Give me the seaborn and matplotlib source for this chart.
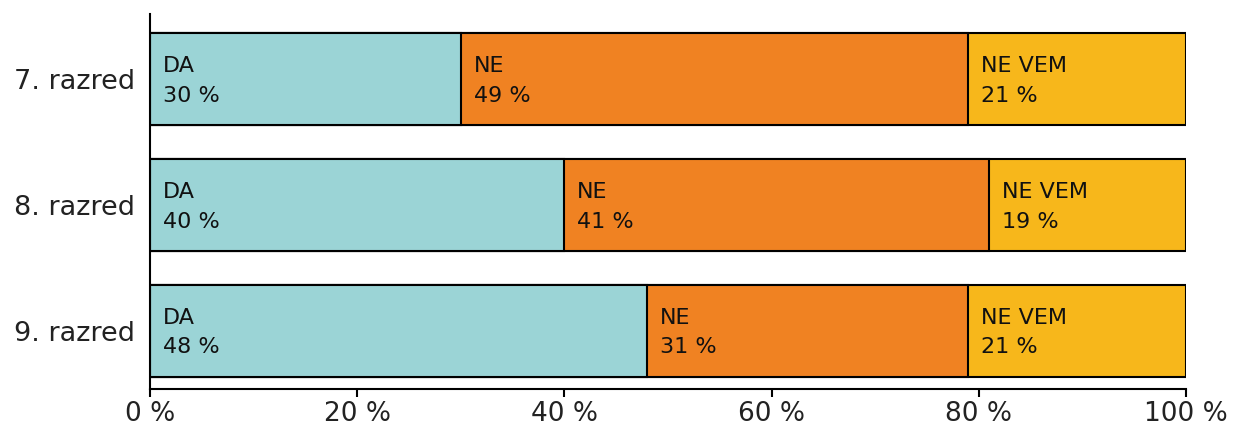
import numpy as np
import pandas as pd
import matplotlib.pyplot as plt
import seaborn as sns

grades = ["7. razred", "8. razred", "9. razred"]
answers = ["DA", "NE", "NE VEM"]
da = [30, 40, 48]
ne = [49, 41, 31]
ne_vem = [21, 19, 21]
colors = ["#9bd4d6", "#f08222", "#f7b71b"]

sns.set_theme(style="white")
plt.rcParams["font.family"] = ["DejaVu Sans"]

df = pd.DataFrame({"grade": grades, "DA": da, "NE": ne, "NE VEM": ne_vem})
cum = df[answers].cumsum(axis=1)

fig = plt.figure(figsize=(12.48, 4.24), dpi=100)
ax = fig.add_axes([0.1202, 0.0825, 0.8301, 0.8845])

# stacked bars: draw the longest cumulative bar first
for col, c in zip(answers[::-1], colors[::-1]):
    sns.barplot(x=cum[col], y=df["grade"], color=c, width=0.73, saturation=1,
                edgecolor="black", linewidth=1.5, orient="h", ax=ax)

# labels inside each segment
for i, row in df.iterrows():
    start = 0
    for col in answers:
        ax.text(start + 1.25, i - 0.105, col, fontsize=16, color="#111111",
                va="center", ha="left")
        ax.text(start + 1.25, i + 0.13, f"{row[col]} %", fontsize=16,
                color="#111111", va="center", ha="left")
        start += row[col]

ax.set_xlim(0, 100)
ax.set_ylim(2.46, -0.52)
ax.set_xticks(np.arange(0, 101, 20))
ax.set_xticklabels([f"{v} %" for v in range(0, 101, 20)])
ax.set_xlabel("")
ax.set_ylabel("")
ax.tick_params(axis="x", bottom=True, length=6, width=1.5, color="black",
               labelsize=19, labelcolor="#222222", pad=2.5)
ax.tick_params(axis="y", left=False, labelsize=19.5, labelcolor="#222222", pad=5)
for s in ["top", "right"]:
    ax.spines[s].set_visible(False)
for s in ["left", "bottom"]:
    ax.spines[s].set_color("black")
    ax.spines[s].set_linewidth(1.5)

fig.savefig("out.png", dpi=100)
